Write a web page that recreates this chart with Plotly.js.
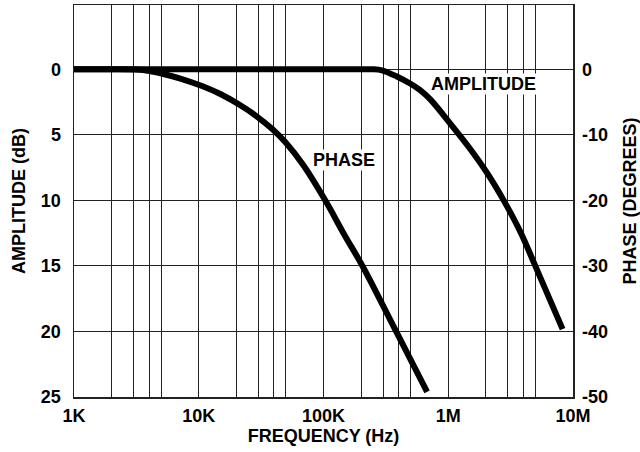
<!DOCTYPE html>
<html><head><meta charset="utf-8">
<script src="https://cdn.plot.ly/plotly-3.0.1.min.js"></script>
<style>html,body{margin:0;padding:0;background:#fff}</style>
</head><body><div id="chart" style="width:640px;height:452px"></div>
<script>
// Amplitude response (dB of attenuation, left axis)
const ampFreq = [1e3, 1e4, 1e5, 1.8e5, 2.455e5, 2.936e5, 3.87e5, 4.946e5, 5.947e5, 7.15e5, 1.034e6, 1.495e6, 2.071e6, 2.812e6, 3.806e6, 4.955e6, 8.254e6];
const ampDb   = [0, 0, 0, 0, 0, 0.08, 0.55, 1.09, 1.59, 2.28, 4.12, 6.06, 7.98, 10.08, 12.45, 14.94, 19.82];
// Phase response (degrees, right axis)
const phaseFreq = [1e3, 2e3, 3.108e3, 4.02e3, 5.21e3, 7.12e3, 1.063e4, 1.489e4, 2.076e4, 2.893e4, 3.885e4, 4.936e4, 6.88e4, 1.032e5, 1.465e5, 2.079e5, 3.75e5, 6.766e5];
const phaseDeg  = [0, 0, -0.05, -0.27, -0.73, -1.42, -2.56, -3.78, -5.31, -7.14, -9.12, -11.11, -14.62, -20.0, -25.2, -30.2, -39.7, -49.2];
// Axis ticks
const freqTicks = [1e3,2e3,3e3,4e3,5e3, 1e4,2e4,3e4,4e4,5e4, 1e5,2e5,3e5,4e5,5e5, 1e6,2e6,3e6,4e6,5e6, 1e7];
const freqLabels = ['1K','','','','', '10K','','','','', '100K','','','','', '1M','','','','', '10M'];
const ampTicks = [0, 5, 10, 15, 20, 25];
const ampLabels = ['0', '5', '10', '15', '20', '25'];
const phaseTicks = [0, -10, -20, -30, -40, -50];
const phaseLabels = ['0', '-10', '-20', '-30', '-40', '-50'];

const F = 'Liberation Sans, Arial, Helvetica, sans-serif';
const tf = {family: F, size: 18, color: '#000', weight: 'bold'};

const traces = [
  {x: ampFreq, y: ampDb, type: 'scatter', mode: 'lines', yaxis: 'y',
   line: {color: '#000', width: 6, shape: 'spline', smoothing: 1}, hoverinfo: 'skip'},
  {x: phaseFreq, y: phaseDeg, type: 'scatter', mode: 'lines', yaxis: 'y2',
   line: {color: '#000', width: 6, shape: 'spline', smoothing: 1}, hoverinfo: 'skip'}
];

const layout = {
  width: 640, height: 452,
  margin: {l: 74, r: 67, t: 5, b: 55},
  paper_bgcolor: '#fff', plot_bgcolor: '#fff',
  showlegend: false,
  font: {family: F, color: '#000'},
  xaxis: {
    type: 'log', range: [3, 7],
    tickmode: 'array', tickvals: freqTicks, ticktext: freqLabels,
    showgrid: true, gridcolor: '#222', gridwidth: 1,
    showline: true, mirror: true, linecolor: '#222', linewidth: 1.5,
    ticks: '', tickfont: tf, ticklabelstandoff: 2,
    title: {text: 'FREQUENCY (Hz)', font: tf, standoff: 4},
    zeroline: false, fixedrange: true
  },
  yaxis: {
    range: [25, -4.9],
    tickmode: 'array', tickvals: ampTicks, ticktext: ampLabels,
    showgrid: true, gridcolor: '#222', gridwidth: 1,
    showline: true, mirror: true, linecolor: '#222', linewidth: 1.5,
    ticks: '', tickfont: tf, ticklabelstandoff: 8,
    title: {text: 'AMPLITUDE (dB)', font: tf, standoff: 10},
    zeroline: false, fixedrange: true
  },
  yaxis2: {
    overlaying: 'y', side: 'right', anchor: 'x',
    range: [-50, 9.8],
    tickmode: 'array', tickvals: phaseTicks, ticktext: phaseLabels,
    showgrid: false, zeroline: false, showline: false,
    ticks: '', tickfont: tf, ticklabelstandoff: 8,
    title: {text: 'PHASE (DEGREES)', font: tf, standoff: 17},
    fixedrange: true
  },
  annotations: [
    {x: 6.285, y: 1.2, xref: 'x', yref: 'y', text: 'AMPLITUDE', showarrow: false,
     font: tf, bgcolor: '#fff', borderpad: 0, yshift: 1},
    {x: 5.166, y: 6.95, xref: 'x', yref: 'y', text: 'PHASE', showarrow: false,
     font: tf, bgcolor: '#fff', borderpad: 0}
  ]
};

Plotly.newPlot('chart', traces, layout, {staticPlot: true, displayModeBar: false});
</script>
</body></html>
